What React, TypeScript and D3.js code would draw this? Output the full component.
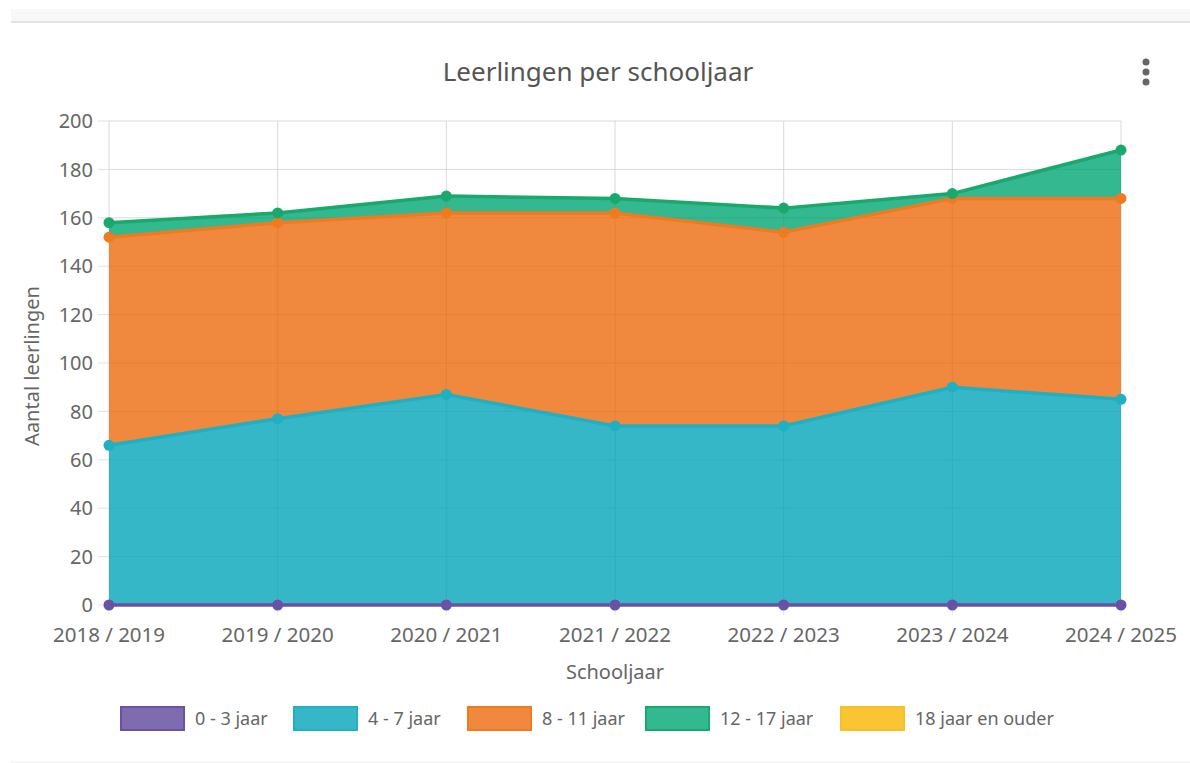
import * as d3 from 'd3'

const schooljaren = ['2018 / 2019', '2019 / 2020', '2020 / 2021', '2021 / 2022', '2022 / 2023', '2023 / 2024', '2024 / 2025']
const jaar0tot3 = [0, 0, 0, 0, 0, 0, 0]
const jaar4tot7 = [66, 77, 87, 74, 74, 90, 85]
const jaar8tot11 = [86, 81, 75, 88, 80, 78, 83]
const jaar12tot17 = [6, 4, 7, 6, 10, 2, 20]
const yTicks = [0, 20, 40, 60, 80, 100, 120, 140, 160, 180, 200]

type Serie = { name: string; values: number[] | null; fill: string; line: string }

const series: Serie[] = [
  { name: '0 - 3 jaar', values: jaar0tot3, fill: '#7e6bb0', line: '#6a51a6' },
  { name: '4 - 7 jaar', values: jaar4tot7, fill: '#36b7c8', line: '#1fb0c3' },
  { name: '8 - 11 jaar', values: jaar8tot11, fill: '#f0893d', line: '#ee7a22' },
  { name: '12 - 17 jaar', values: jaar12tot17, fill: '#33b88f', line: '#1aa96c' },
  { name: '18 jaar en ouder', values: null, fill: '#f9c535', line: '#f8bf26' },
]

const font = '"Noto Sans", sans-serif'

export default function App() {
  const width = 1190
  const height = 763
  const margin = { left: 109, right: 69, top: 121, bottom: 158 }
  const innerH = height - margin.top - margin.bottom

  const x = d3
    .scalePoint<string>()
    .domain(schooljaren)
    .range([margin.left, width - margin.right])
  const y = d3.scaleLinear().domain([0, 200]).range([margin.top + innerH, margin.top])

  // stacked tops
  const withData = series.filter((s) => s.values)
  const stacks: { s: Serie; hi: number[] }[] = []
  let acc = schooljaren.map(() => 0)
  withData.forEach((s) => {
    const hi = acc.map((a, i) => a + (s.values as number[])[i])
    stacks.push({ s, hi })
    acc = hi
  })

  const area = d3
    .area<number>()
    .x((_, i) => x(schooljaren[i]) as number)
    .y0(() => y(0))
    .y1((d) => y(d))
  const line = d3
    .line<number>()
    .x((_, i) => x(schooljaren[i]) as number)
    .y((d) => y(d))

  const legendX = [120, 293, 467, 645, 840]

  return (
    <svg width={width} height={height} style={{ position: 'absolute', left: 0, top: 0 }} fontFamily={font}>
      <rect x={0} y={0} width={width} height={height} fill="#fff" />
      <rect x={11} y={9} width={width - 11} height={13} fill="#f8f8f8" />
      <line x1={11} x2={width} y1={22} y2={22} stroke="#e3e3e3" strokeWidth={2} />
      <line x1={11} x2={width} y1={762} y2={762} stroke="#f0f0f0" strokeWidth={1} />

      <text x={598} y={81} textAnchor="middle" fontSize={26} fill="#555">
        Leerlingen per schooljaar
      </text>
      {[62, 72, 82].map((cy) => (
        <circle key={cy} cx={1146} cy={cy} r={3.5} fill="#666" />
      ))}

      {/* grid */}
      {yTicks.map((t) => (
        <g key={t}>
          <line x1={margin.left} x2={width - margin.right} y1={y(t)} y2={y(t)} stroke="#e6e6e6" />
          <line x1={margin.left - 11} x2={margin.left} y1={y(t)} y2={y(t)} stroke="#e0e0e0" />
          <text x={93} y={y(t)} dy="0.36em" textAnchor="end" fontSize={20} fill="#666">
            {t}
          </text>
        </g>
      ))}
      {schooljaren.map((c) => (
        <line key={c} x1={x(c)} x2={x(c)} y1={margin.top} y2={y(0) + 10} stroke="#e6e6e6" />
      ))}

      {/* areas, top stack first so lower ones cover */}
      {stacks
        .slice()
        .reverse()
        .map(({ s, hi }) => (
          <path key={s.name} d={area(hi) ?? ''} fill={s.fill} />
        ))}
      {/* grid lines faintly through areas */}
      {yTicks.map((t) => (
        <line key={'g' + t} x1={margin.left} x2={width - margin.right} y1={y(t)} y2={y(t)} stroke="rgba(0,0,0,0.05)" />
      ))}
      {schooljaren.map((c) => (
        <line key={'v' + c} x1={x(c)} x2={x(c)} y1={margin.top} y2={y(0)} stroke="rgba(0,0,0,0.05)" />
      ))}

      {stacks.map(({ s, hi }) => (
        <g key={'l' + s.name}>
          <path d={line(hi) ?? ''} fill="none" stroke={s.line} strokeWidth={3.5} />
          {hi.map((v, i) => (
            <circle key={i} cx={x(schooljaren[i])} cy={y(v)} r={5.5} fill={s.line} />
          ))}
        </g>
      ))}

      {schooljaren.map((c) => (
        <text key={'t' + c} x={x(c)} y={642} textAnchor="middle" fontSize={20.5} fill="#666">
          {c}
        </text>
      ))}
      <text x={615} y={679} textAnchor="middle" fontSize={20} fill="#666">
        Schooljaar
      </text>
      <text transform={`translate(39,${366}) rotate(-90)`} textAnchor="middle" fontSize={20} fill="#666">
        Aantal leerlingen
      </text>

      {series.map((s, i) => (
        <g key={'lg' + s.name} transform={`translate(${legendX[i]},706)`}>
          <rect x={1} y={1} width={63} height={23} fill={s.fill} stroke={s.line} strokeWidth={2} />
          <text x={75} y={13} dy="0.35em" fontSize={18} fill="#666">
            {s.name}
          </text>
        </g>
      ))}
    </svg>
  )
}
